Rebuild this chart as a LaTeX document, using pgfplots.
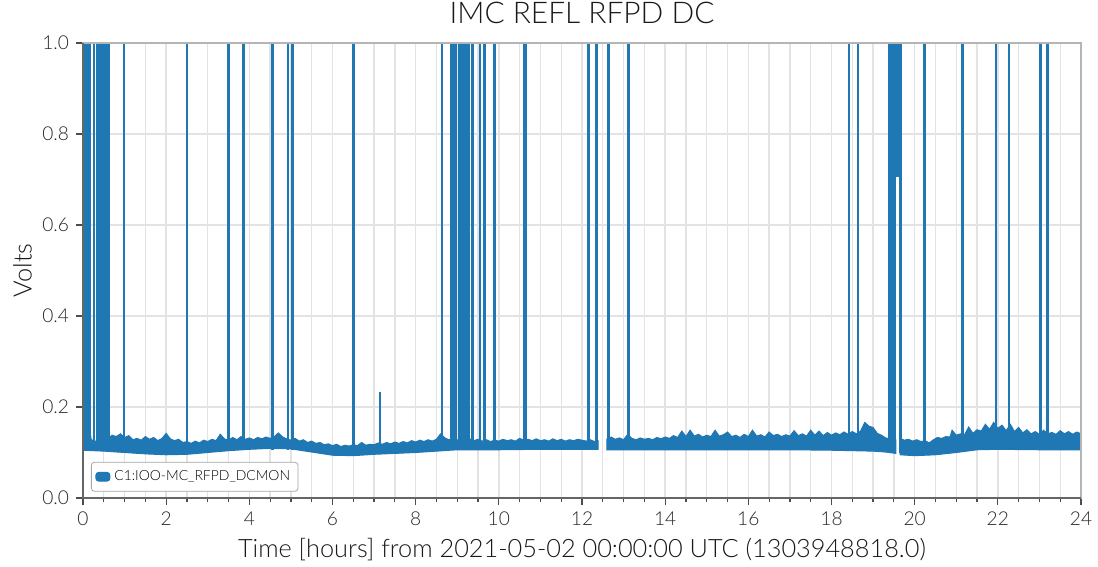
\documentclass[border=0pt]{standalone}
\usepackage{fontspec}
\setmainfont{Lato}[UprightFont=* Light]
\usepackage{pgfplots}
\pgfplotsset{compat=1.18}
\definecolor{tabblue}{HTML}{1F77B4}
\definecolor{gridc}{HTML}{E3E3E3}
\definecolor{spinec}{HTML}{B5B5B5}
\begin{document}
\begin{tikzpicture}
\begin{axis}[
  at={(0,0)}, anchor=south west,
  scale only axis, width=499bp, height=227.5bp,
  xmin=0, xmax=24, ymin=0, ymax=1,
  xtick={0,2,4,6,8,10,12,14,16,18,20,22,24}, minor x tick num=3,
  ytick={0,0.2,0.4,0.6,0.8,1},
  xtick pos=left, ytick pos=left,
  tick align=outside,
  major tick length=3.5bp, minor tick length=2bp,
  tick style={color=black!70, line width=0.6bp},
  grid=both,
  major grid style={gridc, line width=0.7bp},
  minor grid style={gridc, line width=0.7bp},
  axis line style={spinec, line width=0.8bp},
  /pgf/number format/assume math mode=true,
  tick label style={font=\fontsize{9.6}{11}\selectfont, text=black!85},
  yticklabel style={/pgf/number format/fixed, /pgf/number format/fixed zerofill, /pgf/number format/precision=1},
  title={IMC REFL RFPD DC},
  title style={font=\fontsize{15}{18}\selectfont, text=black!90},
  xlabel={Time [hours] from 2021-05-02 00:00:00 UTC (1303948818.0)},
  xlabel style={font=\fontsize{12.7}{15}\selectfont, text=black!90, at={(axis description cs:0.5,0)}, anchor=base, yshift=-29.5bp},
  ylabel={Volts},
  ylabel style={font=\fontsize{12.7}{15}\selectfont, text=black!90, at={(axis description cs:-0.0515,0.5)}, anchor=base},
  legend style={at={(0.008,0.014)}, anchor=south west, draw=black!35, rounded corners=1.5bp,
    font=\fontsize{7}{8}\selectfont, inner sep=2bp, fill=white},
  legend cell align=left,
  legend image code/.code={\fill[tabblue] (0bp,-2.2bp) rectangle (7bp,2.2bp);},
]
% band, segment A (upper envelope then lower envelope)
\addplot[draw=tabblue, fill=tabblue, line width=0.5bp] coordinates {
(0.0,0.128)(0.1,0.150)(0.15,0.153)(0.2,0.128)(0.3,0.125)(0.4,0.122)(0.5,0.124)(0.6,0.130)(0.7,0.138)(0.8,0.135)(0.9,0.141)
(1.0,0.133)(1.1,0.137)(1.2,0.128)(1.3,0.131)(1.4,0.127)(1.5,0.135)(1.6,0.129)(1.7,0.133)(1.8,0.126)(1.9,0.131)
(2.0,0.142)(2.1,0.130)(2.2,0.126)(2.3,0.129)(2.4,0.122)(2.5,0.124)(2.6,0.120)(2.7,0.125)(2.8,0.121)(2.9,0.127)
(3.0,0.124)(3.1,0.129)(3.2,0.126)(3.3,0.140)(3.4,0.130)(3.5,0.127)(3.6,0.133)(3.7,0.128)(3.8,0.135)(3.9,0.129)
(4.0,0.132)(4.1,0.128)(4.2,0.133)(4.3,0.130)(4.4,0.134)(4.5,0.131)(4.6,0.135)(4.7,0.143)(4.8,0.134)(4.9,0.130)
(5.0,0.127)(5.1,0.131)(5.2,0.125)(5.3,0.128)(5.4,0.122)(5.5,0.125)(5.6,0.120)(5.7,0.122)(5.8,0.117)(5.9,0.119)
(6.0,0.115)(6.1,0.118)(6.2,0.113)(6.3,0.116)(6.4,0.114)(6.5,0.117)(6.6,0.115)(6.7,0.122)(6.8,0.116)(6.9,0.118)
(7.0,0.117)(7.1,0.121)(7.2,0.118)(7.3,0.122)(7.4,0.119)(7.5,0.123)(7.6,0.120)(7.7,0.124)(7.8,0.121)(7.9,0.126)
(8.0,0.123)(8.1,0.127)(8.2,0.124)(8.3,0.128)(8.4,0.125)(8.5,0.129)(8.6,0.141)(8.7,0.132)(8.8,0.128)(8.9,0.131)
(9.0,0.127)(9.1,0.133)(9.2,0.128)(9.3,0.130)(9.4,0.126)(9.5,0.129)(9.6,0.125)(9.7,0.128)(9.8,0.124)(9.9,0.127)
(10.0,0.125)(10.1,0.129)(10.2,0.126)(10.3,0.128)(10.4,0.125)(10.5,0.131)(10.6,0.127)(10.7,0.129)(10.8,0.126)(10.9,0.130)
(11.0,0.126)(11.1,0.128)(11.2,0.125)(11.3,0.130)(11.4,0.126)(11.5,0.129)(11.6,0.125)(11.7,0.128)(11.8,0.126)(11.9,0.129)
(12.0,0.127)(12.1,0.125)(12.2,0.128)(12.3,0.124)(12.39,0.126)
(12.39,0.107)(12.0,0.107)(11.0,0.107)(10.0,0.106)(9.0,0.106)(8.5,0.103)(8.0,0.100)(7.5,0.098)(7.0,0.096)(6.5,0.093)
(6.0,0.094)(5.5,0.101)(5.0,0.108)(4.5,0.109)(4.0,0.107)(3.5,0.104)(3.0,0.100)(2.5,0.096)(2.0,0.095)(1.5,0.097)
(1.0,0.100)(0.5,0.103)(0.0,0.105)
} -- cycle;
\addlegendentry{C1:IOO-MC\_RFPD\_DCMON}
% band, segment B
\addplot[draw=tabblue, fill=tabblue, line width=0.5bp, forget plot] coordinates {
(12.6,0.130)(12.7,0.134)(12.8,0.129)(12.9,0.132)(13.0,0.128)(13.1,0.140)(13.2,0.131)(13.3,0.128)(13.4,0.132)(13.5,0.129)
(13.6,0.131)(13.7,0.128)(13.8,0.133)(13.9,0.130)(14.0,0.134)(14.1,0.131)(14.2,0.137)(14.3,0.133)(14.4,0.147)(14.5,0.135)
(14.6,0.149)(14.7,0.136)(14.8,0.140)(14.9,0.134)(15.0,0.138)(15.1,0.135)(15.2,0.149)(15.3,0.136)(15.4,0.139)(15.5,0.145)
(15.6,0.135)(15.7,0.138)(15.8,0.133)(15.9,0.140)(16.0,0.135)(16.1,0.149)(16.2,0.136)(16.3,0.139)(16.4,0.134)(16.5,0.145)
(16.6,0.137)(16.7,0.140)(16.8,0.135)(16.9,0.139)(17.0,0.136)(17.1,0.148)(17.2,0.137)(17.3,0.141)(17.4,0.136)(17.5,0.149)
(17.6,0.138)(17.7,0.147)(17.8,0.137)(17.9,0.144)(18.0,0.138)(18.1,0.143)(18.2,0.139)(18.3,0.145)(18.4,0.140)(18.5,0.146)
(18.6,0.141)(18.7,0.147)(18.8,0.166)(18.9,0.158)(19.0,0.155)(19.1,0.142)(19.2,0.138)(19.3,0.132)(19.4,0.130)(19.55,0.128)
(19.55,0.098)(19.3,0.101)(19.0,0.103)(18.5,0.104)(18.0,0.105)(17.0,0.106)(16.0,0.106)(15.0,0.106)(14.0,0.106)(13.0,0.106)
(12.6,0.106)
} -- cycle;
% band, segment C
\addplot[draw=tabblue, fill=tabblue, line width=0.5bp, forget plot] coordinates {
(19.65,0.131)(19.75,0.127)(19.85,0.129)(19.95,0.125)(20.05,0.128)(20.15,0.124)(20.25,0.126)(20.35,0.121)(20.45,0.128)
(20.55,0.133)(20.65,0.131)(20.75,0.135)(20.85,0.134)(20.9,0.149)(21.0,0.138)(21.1,0.141)(21.2,0.139)(21.3,0.156)
(21.4,0.142)(21.5,0.150)(21.6,0.147)(21.7,0.162)(21.8,0.151)(21.9,0.166)(22.0,0.153)(22.1,0.160)(22.2,0.148)(22.3,0.162)
(22.4,0.146)(22.5,0.155)(22.6,0.143)(22.7,0.150)(22.8,0.141)(22.9,0.146)(23.0,0.140)(23.1,0.149)(23.2,0.141)(23.3,0.144)
(23.4,0.140)(23.5,0.148)(23.6,0.141)(23.7,0.146)(23.8,0.140)(23.9,0.145)(24.0,0.141)
(24.0,0.106)(23.0,0.106)(22.0,0.107)(21.5,0.106)(21.0,0.100)(20.5,0.095)(20.0,0.093)(19.65,0.095)
} -- cycle;
% glitches
\addplot[tabblue, line width=1.3bp, forget plot, unbounded coords=jump] coordinates {
(0.03,0.105)(0.03,1.05)(0.03,nan)(0.06,0.105)(0.06,1.05)(0.06,nan)(0.09,0.105)(0.09,1.05)(0.09,nan)
(0.145,0.105)(0.145,1.05)(0.145,nan)(0.17,0.105)(0.17,1.05)(0.17,nan)
(0.26,0.105)(0.26,1.05)(0.26,nan)
(0.34,0.105)(0.34,1.05)(0.34,nan)(0.37,0.105)(0.37,1.05)(0.37,nan)(0.40,0.105)(0.40,1.05)(0.40,nan)
(0.43,0.105)(0.43,1.05)(0.43,nan)(0.46,0.105)(0.46,1.05)(0.46,nan)(0.49,0.105)(0.49,1.05)(0.49,nan)
(0.55,0.105)(0.55,1.05)(0.55,nan)(0.58,0.105)(0.58,1.05)(0.58,nan)
(0.61,0.105)(0.61,1.05)(0.61,nan)
(0.99,0.105)(0.99,1.05)(0.99,nan)(2.50,0.105)(2.50,1.05)(2.50,nan)(3.50,0.105)(3.50,1.05)(3.50,nan)
(3.86,0.105)(3.86,1.05)(3.86,nan)(4.55,0.105)(4.55,1.05)(4.55,nan)(4.93,0.105)(4.93,1.05)(4.93,nan)
(5.04,0.105)(5.04,1.05)(5.04,nan)(6.50,0.105)(6.50,1.05)(6.50,nan)(7.14,0.110)(7.14,0.234)(7.14,nan)
(8.63,0.105)(8.63,1.05)(8.63,nan)
(8.86,0.105)(8.86,1.05)(8.86,nan)(8.89,0.105)(8.89,1.05)(8.89,nan)(8.92,0.105)(8.92,1.05)(8.92,nan)
(8.96,0.105)(8.96,1.05)(8.96,nan)
(9.04,0.105)(9.04,1.05)(9.04,nan)(9.07,0.105)(9.07,1.05)(9.07,nan)(9.10,0.105)(9.10,1.05)(9.10,nan)
(9.13,0.105)(9.13,1.05)(9.13,nan)(9.16,0.105)(9.16,1.05)(9.16,nan)
(9.21,0.105)(9.21,1.05)(9.21,nan)(9.27,0.105)(9.27,1.05)(9.27,nan)(9.36,0.105)(9.36,1.05)(9.36,nan)
(9.55,0.105)(9.55,1.05)(9.55,nan)(9.66,0.105)(9.66,1.05)(9.66,nan)(9.89,0.105)(9.89,1.05)(9.89,nan)
(10.61,0.105)(10.61,1.05)(10.61,nan)(10.65,0.105)(10.65,1.05)(10.65,nan)
(12.15,0.105)(12.15,1.05)(12.15,nan)(12.35,0.105)(12.35,1.05)(12.35,nan)(12.63,0.105)(12.63,1.05)(12.63,nan)
(13.12,0.105)(13.12,1.05)(13.12,nan)(18.42,0.105)(18.42,1.05)(18.42,nan)(18.64,0.105)(18.64,1.05)(18.64,nan)
(19.38,0.100)(19.38,1.05)(19.38,nan)(19.41,0.100)(19.41,1.05)(19.41,nan)(19.44,0.100)(19.44,1.05)(19.44,nan)
(19.47,0.100)(19.47,1.05)(19.47,nan)(19.50,0.100)(19.50,1.05)(19.50,nan)(19.53,0.100)(19.53,1.05)(19.53,nan)
(19.59,0.706)(19.59,1.05)(19.59,nan)(19.66,0.098)(19.66,1.05)(19.66,nan)
(20.23,0.100)(20.23,1.05)(20.23,nan)(21.15,0.105)(21.15,1.05)(21.15,nan)(21.96,0.105)(21.96,1.05)(21.96,nan)
(22.27,0.105)(22.27,1.05)(22.27,nan)(23.03,0.105)(23.03,1.05)(23.03,nan)(23.19,0.105)(23.19,1.05)(23.19,nan)
};
\end{axis}
\draw[spinec, line width=0.8bp] (0,0) rectangle (499bp,227.5bp);
\draw[black!60, line width=0.8bp] (0,227.5bp) -- (0,0) -- (499bp,0);
\pgfresetboundingbox
\useasboundingbox (-41.5bp,-34.5bp) rectangle (507.5bp,249bp);
\end{tikzpicture}
\end{document}
